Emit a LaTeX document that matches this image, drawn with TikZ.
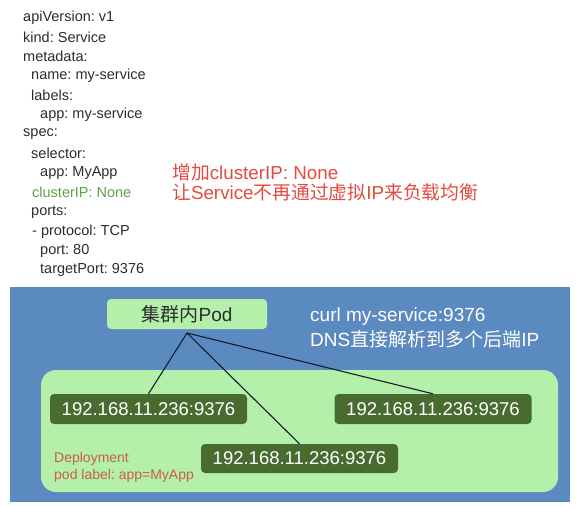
\documentclass[tikz,border=0pt]{standalone}
\usepackage{fontspec}
\setmainfont{Liberation Sans}
\newfontfamily\cjk{Noto Sans CJK SC}
\frenchspacing
\definecolor{bluebg}{RGB}{91,138,192}
\definecolor{podgreen}{RGB}{180,240,170}
\definecolor{ipgreen}{RGB}{72,108,48}
\definecolor{codegray}{RGB}{45,45,45}
\definecolor{codegreen}{RGB}{95,160,75}
\definecolor{notered}{RGB}{225,75,65}
\definecolor{deployred}{RGB}{200,95,70}
\definecolor{linkcol}{RGB}{20,28,45}
\begin{document}
\begin{tikzpicture}[x=1pt, y=-1pt,
  yaml/.style={anchor=west, inner sep=0pt, font=\fontsize{14.5}{17}\selectfont},
  note/.style={anchor=west, inner sep=0pt, text=notered, font=\fontsize{18.8}{22}\selectfont},
  podbox/.style={fill=podgreen, text=codegray, rounded corners=4pt, minimum width=160pt, minimum height=30pt, font=\fontsize{19}{22}\selectfont},
  ipbox/.style={fill=ipgreen, text=white, rounded corners=4pt, minimum width=197pt, minimum height=30pt, font=\fontsize{18.5}{22}\selectfont},
  curltext/.style={anchor=west, inner sep=0pt, text=white, font=\fontsize{19}{22}\selectfont},
  deploy/.style={anchor=west, inner sep=0pt, text=deployred, font=\fontsize{14}{17}\selectfont},
  link/.style={draw=linkcol, line width=1.1pt}]
\useasboundingbox[fill=white] (0,0) rectangle (583,508);
% service yaml
\foreach \n/\x/\c/\t in {1/23/codegray/{apiVersion: v1}, 2/23/codegray/{kind: Service},
    3/23/codegray/{metadata:}, 4/31/codegray/{name: my-service}, 5/31/codegray/{labels:},
    6/40/codegray/{app: my-service}, 7/23/codegray/{spec:}, 8/31/codegray/{selector:},
    9/40/codegray/{app: MyApp}, 10/32/codegreen/{clusterIP: None}, 11/31/codegray/{ports:},
    12/32/codegray/{- protocol: TCP}, 13/40/codegray/{port: 80}, 14/40/codegray/{targetPort: 9376}}
  \node[yaml, text=\c] (l\n) at (\x,{18+19.4*(\n-1)}) {\t};
\node[note] (n1) at (172,172) {{\cjk 增加}clusterIP: None};
\node[note] (n2) at (172,192) {{\cjk 让}Service{\cjk 不再通过虚拟}IP{\cjk 来负载均衡}};
% cluster
\fill[bluebg] (10,287) rectangle (570,502);
\fill[podgreen, rounded corners=15pt] (41,370) rectangle (558,492);
\node[podbox] (pod) at (187,314) {{\cjk 集群内}Pod};
\node[curltext] (curl) at (310,317) {curl my-service:9376};
\node[curltext] (dns) at (310,339) {DNS{\cjk 直接解析到多个后端}IP};
\node[ipbox] (ip1) at (148.5,409) {192.168.11.236:9376};
\node[ipbox] (ip3) at (433,409) {192.168.11.236:9376};
\node[ipbox, minimum height=29pt] (ip2) at (299.5,458.5) {192.168.11.236:9376};
\node[deploy] (dep) at (54,459) {Deployment};
\node[deploy] (lbl) at (54,476) {pod label: app=MyApp};
\coordinate (fork) at (187,333);
\draw[link] (ip1.north) -- (fork) -- (ip2.north);
\draw[link] (fork) -- (ip3.north);
\end{tikzpicture}
\end{document}
